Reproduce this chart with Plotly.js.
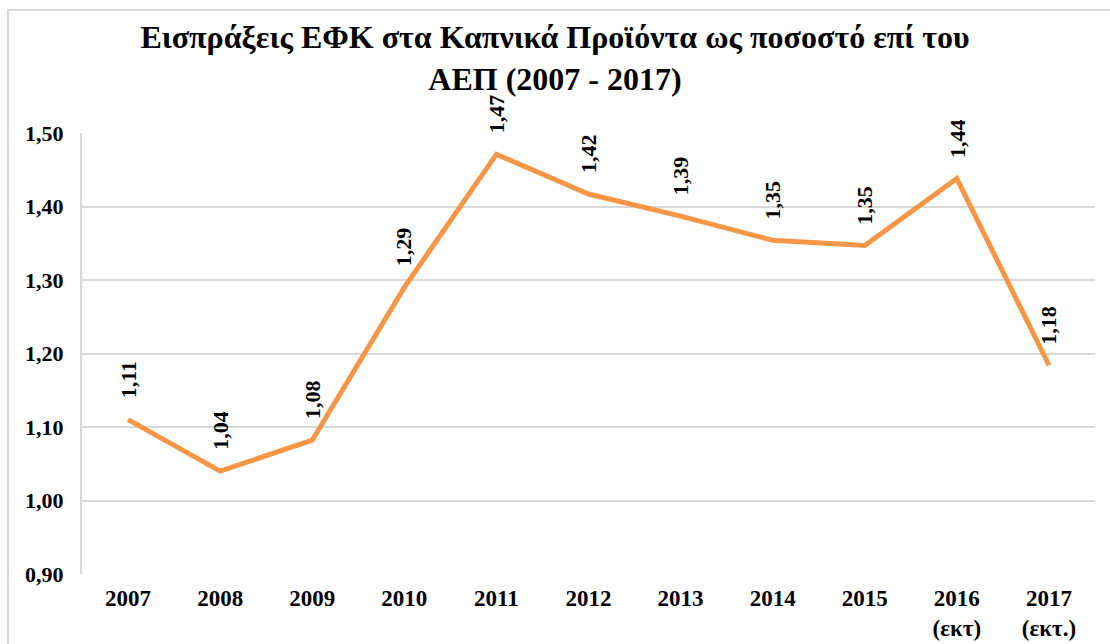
<!DOCTYPE html>
<html>
<head>
<meta charset="utf-8">
<script src="https://cdn.plot.ly/plotly-3.0.1.min.js"></script>
<style>
  html, body { margin: 0; padding: 0; background: #fff; }
  #wrap { position: relative; width: 1110px; height: 644px; overflow: hidden; }
  #frame { position: absolute; left: 7px; top: 9px; width: 1200px; height: 800px;
           border-top: 2px solid #d9d9d9; border-left: 2px solid #d9d9d9; box-sizing: border-box; pointer-events: none; }
  #chart { position: absolute; left: 0; top: 0; width: 1110px; height: 644px; }
</style>
</head>
<body>
<div id="wrap">
  <div id="chart"></div>
  <div id="frame"></div>
</div>
<script>
const categories = ['2007', '2008', '2009', '2010', '2011', '2012', '2013', '2014', '2015', '2016<br>(εκτ)', '2017<br>(εκτ.)'];
const values = [1.110, 1.040, 1.082, 1.290, 1.471, 1.417, 1.387, 1.354, 1.347, 1.438, 1.184];
const yTickVals = [0.9, 1.0, 1.1, 1.2, 1.3, 1.4, 1.5];

const fmt = v => v.toFixed(2).replace('.', ',');
const font = 'Liberation Serif, Times New Roman, serif';
const idx = categories.map((c, i) => i);

const trace = {
  type: 'scatter',
  mode: 'lines',
  x: idx,
  y: values,
  line: { color: '#F79646', width: 5 },
  hoverinfo: 'skip'
};

const annotations = idx.map(i => ({
  x: i, y: values[i], xref: 'x', yref: 'y',
  text: fmt(values[i]),
  textangle: -90,
  showarrow: false,
  xanchor: 'center', yanchor: 'bottom',
  yshift: 19,
  font: { family: font, size: 22, color: '#000', weight: 'bold' }
}));

const layout = {
  width: 1110, height: 644,
  margin: { l: 82, r: 15, t: 133, b: 70 },
  paper_bgcolor: '#fff', plot_bgcolor: '#fff',
  separators: ',.',
  showlegend: false,
  title: {
    text: '<b>Εισπράξεις ΕΦΚ στα Καπνικά Προϊόντα ως ποσοστό επί του<br>ΑΕΠ (2007 - 2017)</b>',
    font: { family: font, size: 32, color: '#000' },
    x: 0.5, xref: 'container', xanchor: 'center',
    y: 0.925, yref: 'container', yanchor: 'middle'
  },
  xaxis: {
    type: 'linear',
    range: [-0.5, categories.length - 0.5],
    tickvals: idx,
    ticktext: categories,
    tickfont: { family: font, size: 23, color: '#000', weight: 'bold' },
    showgrid: false, zeroline: false,
    showline: false,
    ticks: '', ticklabelstandoff: 8,
    fixedrange: true
  },
  yaxis: {
    range: [0.9, 1.5],
    tickvals: yTickVals,
    tickformat: '.2f',
    tickfont: { family: font, size: 22, color: '#000', weight: 'bold' },
    showgrid: true, gridcolor: '#d9d9d9', gridwidth: 2,
    zeroline: false,
    showline: true, linecolor: '#d9d9d9', linewidth: 2,
    ticks: '', ticklabelstandoff: 12,
    fixedrange: true
  },
  annotations: annotations
};

Plotly.newPlot('chart', [trace], layout, { staticPlot: true, displayModeBar: false });
</script>
</body>
</html>
